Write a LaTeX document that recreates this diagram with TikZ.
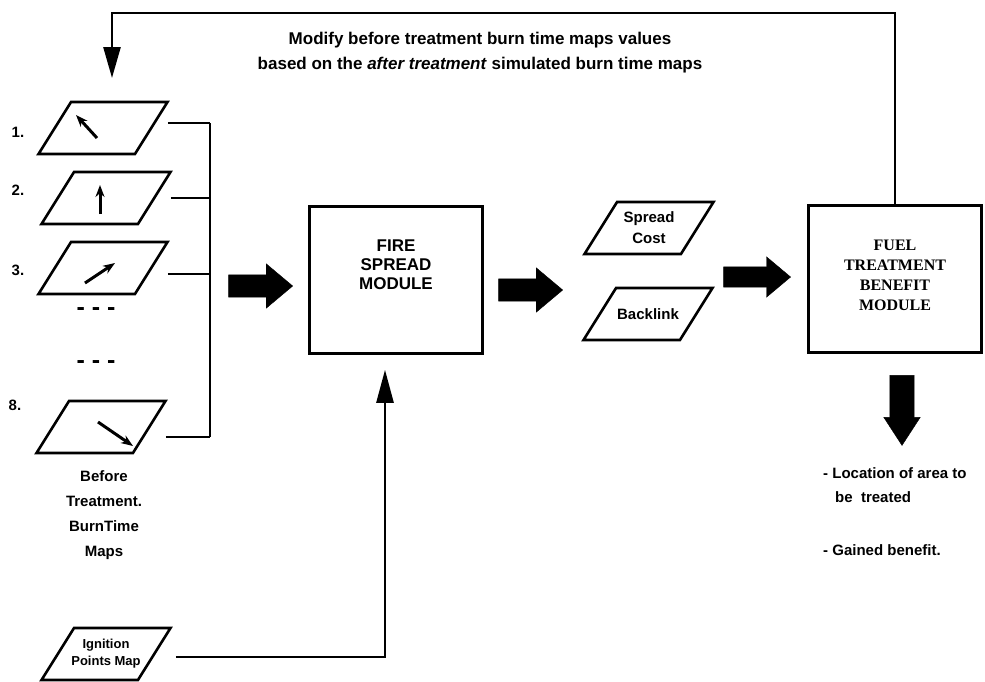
\documentclass[tikz,border=0pt]{standalone}
\usepackage{fontspec}
\setmainfont{Liberation Sans}
\newfontfamily\timesfont{Liberation Serif}
\usetikzlibrary{shapes.geometric, shapes.arrows, arrows.meta}

\begin{document}
\begin{tikzpicture}[x=1pt, y=-1pt,
    wire/.style={line width=2.6pt},
    mapbox/.style={draw, line width=2.6pt, trapezium, trapezium stretches=true,
      trapezium left angle=63, trapezium right angle=117,
      minimum width=129pt, minimum height=52pt, inner sep=2pt},
    bigarrow/.style={single arrow, fill=black, draw=black, inner xsep=0pt,
      inner ysep=11pt, text height=0pt, text depth=0pt, minimum height=64pt,
      single arrow head extend=11pt, single arrow tip angle=80},
    modbox/.style={draw, line width=2.6pt, minimum width=173pt, minimum height=147pt},
    wind/.style={line width=3pt, -{Stealth[length=12pt,width=9pt]}},
    lbl/.style={font=\fontsize{15}{25}\selectfont\bfseries, align=center, inner sep=0pt}]
    \useasboundingbox (0,0) rectangle (985,681);

    % Before treatment burn time maps
    \foreach \m/\px/\py in {1/103/128, 2/106/198, 3/103/268, 8/101/427} {
      \node[mapbox] (m\m) at (\px,\py) {};
    }
    \foreach \m/\px/\py in {1/18/132, 2/18/190, 3/18/270, 8/15/405} {
      \node[lbl] (n\m) at (\px,\py) {\m.};
    }
    \foreach \m/\ax/\ay/\bx/\by in {1/-6/10/-27/-13, 2/-6/16/-6/-13,
                                   3/-18/15/12/-5, 8/-3/-5/32/19} {
      \draw[wind] ([shift={(\ax,\ay)}]m\m.center) -- ([shift={(\bx,\by)}]m\m.center);
    }
    \node[lbl, font=\fontsize{25}{25}\selectfont\bfseries] (dots1) at (96,312) {- - -};
    \node[lbl, font=\fontsize{25}{25}\selectfont\bfseries] (dots2) at (96,365) {- - -};
    \node[lbl] (btlabel) at (104,515) {Before\\Treatment.\\BurnTime\\Maps};

    % Bracket
    \coordinate (brktop) at (210,123);
    \coordinate (brkbot) at (210,437);
    \draw[wire] (brktop) -- (brkbot);
    \foreach \m/\dy in {1/5, 2/0, 3/-6, 8/-10} {
      \draw[wire] ([xshift=15pt, yshift=\dy pt]m\m.east) coordinate (s\m) -- (s\m -| brktop);
    }

    % Modules
    \node[modbox] (fire) at (396,280) {};
    \node[lbl, font=\fontsize{17}{19}\selectfont\bfseries] (firetxt)
         at ([yshift=15pt]fire.center) {FIRE\\SPREAD\\MODULE};
    \node[modbox] (fuel) at (895,279) {};
    \node[lbl, font=\fontsize{16}{20}\selectfont\timesfont\bfseries] (fueltxt)
         at ([yshift=4pt]fuel.center) {FUEL\\TREATMENT\\BENEFIT\\MODULE};

    % Outputs of the spread module
    \node[mapbox] (cost) at (649,228) {};
    \node[lbl, font=\fontsize{15}{21}\selectfont\bfseries] (costtxt) at (cost.center) {Spread\\Cost};
    \node[mapbox] (back) at (648,314) {};
    \node[lbl, font=\fontsize{15}{21}\selectfont\bfseries] (backtxt) at (back.center) {Backlink};

    % Ignition points
    \node[mapbox] (ign) at (106,654) {};
    \node[lbl, font=\fontsize{13}{17}\selectfont\bfseries] (igntxt) at (ign.center) {Ignition\\Points Map};
    \draw[wire, -{Triangle[length=33pt, width=17pt]}]
         ([xshift=20pt, yshift=-3pt]ign.east) -| ([xshift=-11pt, yshift=-15pt]fire.south);

    % Block arrows
    \node[bigarrow] (a1) at (254,286) {};
    \node[bigarrow] (a2) at (524,290) {};
    \node[bigarrow, inner ysep=10pt, single arrow head extend=10pt, minimum height=67pt] (a3) at (751,277) {};
    \node[bigarrow, inner xsep=12pt, inner ysep=0pt, single arrow head extend=6pt, minimum height=70pt,
          single arrow tip angle=66, shape border rotate=270] (a4) at (902,401) {};

    % Feedback
    \coordinate (fbcorner) at (112,13);
    \coordinate (fbtip) at (112,78);
    \draw[wire, -{Triangle[length=31pt, width=17pt]}] (fuel.north) |- (fbcorner) -- (fbtip);
    \node[lbl, font=\fontsize{17}{25}\selectfont\bfseries] (fbtext) at (480,53)
         {Modify before treatment burn time maps values\\
          based on the \textit{after treatment} simulated burn time maps};

    % Results
    \node[lbl, align=left, anchor=west, font=\fontsize{15}{24}\selectfont\bfseries] (res)
         at (823,485) {- Location of area to\\\hspace*{12pt}be~ treated};
    \node[lbl, anchor=west, font=\fontsize{15}{24}\selectfont\bfseries] (gain)
         at (823,550) {- Gained benefit.};
\end{tikzpicture}
\end{document}
